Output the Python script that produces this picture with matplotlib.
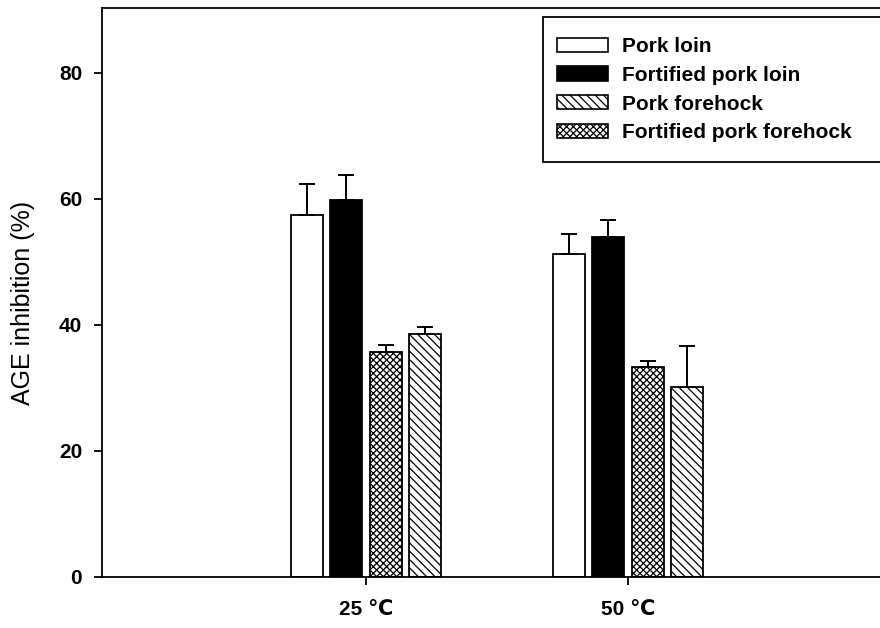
import numpy as np
import matplotlib
matplotlib.use("Agg")
import matplotlib.pyplot as plt
from matplotlib.patches import Patch, Rectangle

plt.rcParams['font.family'] = ['Liberation Sans', 'DejaVu Sans']
plt.rcParams['hatch.linewidth'] = 0.9

temperatures = ['25 \u2103', '50 \u2103']
pork_loin = [57.4, 51.3]
pork_loin_err = [5.0, 3.2]
fortified_loin = [59.8, 54.0]
fortified_loin_err = [4.0, 2.6]
fortified_forehock = [35.7, 33.3]
fortified_forehock_err = [1.1, 1.0]
pork_forehock = [38.6, 30.1]
pork_forehock_err = [1.0, 6.6]

fig = plt.figure(figsize=(8.8, 6.28), dpi=100)
# right spine sits just past the right edge, as in the original
ax = fig.add_axes([102/880, 1 - 577/628, 786/880, 569/628])

x = np.array([1, 2])
w = 0.122
step = 0.15

series = [
    (pork_loin, pork_loin_err, 'white', '', -1.5),
    (fortified_loin, fortified_loin_err, 'black', '', -0.5),
    (fortified_forehock, fortified_forehock_err, 'white', 'xxxxx', 0.5),
    (pork_forehock, pork_forehock_err, 'white', '\\\\\\\\', 1.5),
]
for vals, errs, fc, hatch, off in series:
    ax.bar(x + off*step, vals, w, color=fc, edgecolor='black', hatch=hatch,
           linewidth=1.3, zorder=2)
    ax.errorbar(x + off*step, vals, yerr=[np.zeros(len(errs)), errs], fmt='none',
                ecolor='black', elinewidth=1.4, capsize=5.8, capthick=1.4, zorder=3)

ax.set_xlim(-0.0076, 2.992)
ax.set_ylim(0, 90.3)
ax.set_xticks(x)
ax.set_xticklabels(temperatures, fontsize=15, fontweight='bold')
ax.set_yticks([0, 20, 40, 60, 80])
ax.set_yticklabels(['0', '20', '40', '60', '80'], fontsize=15, fontweight='bold')
ax.tick_params(axis='y', direction='out', length=5.8, width=1.3, pad=8.5)
ax.tick_params(axis='x', direction='out', length=5.8, width=1.3, pad=10.5)
for s in ax.spines.values():
    s.set_linewidth(1.3)
ax.set_ylabel('AGE inhibition (%)', fontsize=18)
ax.yaxis.set_label_coords(-0.085, 0.482)

# legend frame drawn separately so it can run off the right edge
fig.patches.append(Rectangle((543/880, 1 - 162/628), 360/880, 145/628,
                             transform=fig.transFigure, facecolor='white',
                             edgecolor='black', linewidth=1.3, zorder=4))

handles = [
    Patch(facecolor='white', edgecolor='black', linewidth=1.2, label='Pork loin'),
    Patch(facecolor='black', edgecolor='black', linewidth=1.2, label='Fortified pork loin'),
    Patch(facecolor='white', edgecolor='black', linewidth=1.2, hatch='\\\\\\\\', label='Pork forehock'),
    Patch(facecolor='white', edgecolor='black', linewidth=1.2, hatch='xxxxx', label='Fortified pork forehock'),
]
leg = fig.legend(handles=handles, loc='upper left', bbox_to_anchor=(557/880, 1 - 37/628),
                 prop={'weight': 'bold', 'size': 15}, frameon=False, borderpad=0,
                 borderaxespad=0, handlelength=2.45, handleheight=0.67,
                 labelspacing=0.47, handletextpad=0.65)
leg.set_zorder(5)

fig.savefig('out.png', dpi=100)
